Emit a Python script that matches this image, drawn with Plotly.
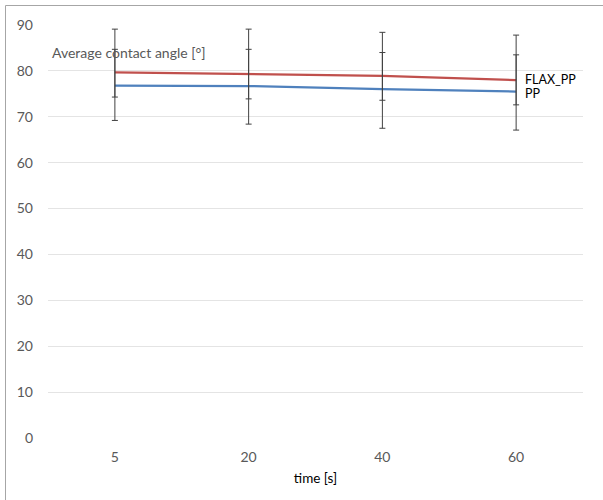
import plotly.graph_objects as go

# ---- data ----
times = ["5", "20", "40", "60"]
flax_pp = [79.7, 79.3, 78.9, 78.0]
pp = [76.8, 76.7, 76.0, 75.5]
flax_err_plus = [5.0, 5.4, 5.1, 5.5]
flax_err_minus = [5.4, 5.4, 5.3, 5.4]
pp_err_plus = [12.3, 12.4, 12.4, 12.3]
pp_err_minus = [7.6, 8.3, 8.5, 8.4]
y_ticks = [0, 10, 20, 30, 40, 50, 60, 70, 80, 90]
series_names = ["PP", "FLAX_PP"]

RED = "#C0504D"
BLUE = "#4F81BD"
ERR = "#404040"
FONT = "Lato"

W, H = 603, 500
ML, MR, MT, MB = 48, 20, 25, 62

fig = go.Figure()
fig.add_trace(go.Scatter(x=times, y=pp, mode="lines", name=series_names[0],
                         line=dict(color=BLUE, width=2.25)))
fig.add_trace(go.Scatter(x=times, y=flax_pp, mode="lines", name=series_names[1],
                         line=dict(color=RED, width=2.25)))
# error bars drawn on top of the lines
fig.add_trace(go.Scatter(x=times, y=pp, mode="markers",
                         marker=dict(size=1, opacity=0),
                         error_y=dict(type="data", symmetric=False, array=pp_err_plus,
                                      arrayminus=pp_err_minus, color=ERR,
                                      thickness=1, width=3)))
fig.add_trace(go.Scatter(x=times, y=flax_pp, mode="markers",
                         marker=dict(size=1, opacity=0),
                         error_y=dict(type="data", symmetric=False, array=flax_err_plus,
                                      arrayminus=flax_err_minus, color=ERR,
                                      thickness=1, width=3)))

# end labels (data labels on the last point)
last = len(times) - 1
fig.add_annotation(x=last, y=flax_pp[-1], text=series_names[1], showarrow=False,
                   xanchor="left", yanchor="middle", xshift=7, yshift=1,
                   font=dict(family=FONT, size=12.5, color="#000000"))
fig.add_annotation(x=last, y=pp[-1], text=series_names[0], showarrow=False,
                   xanchor="left", yanchor="middle", xshift=7, yshift=-2,
                   font=dict(family=FONT, size=12.5, color="#000000"))

# y axis title inside plot
fig.add_annotation(xref="paper", yref="paper", x=0.004, y=(438 - 52) / 413,
                   text="Average contact angle [°]", showarrow=False,
                   xanchor="left", yanchor="middle",
                   font=dict(family=FONT, size=14, color="#595959"))

# outer frame (left and top)
pw = W - ML - MR
ph = H - MT - MB
fx = (5.5 - ML) / pw
fy = (H - MB - 5.5) / ph
fig.add_shape(type="line", xref="paper", yref="paper", x0=fx, x1=fx, y0=fy,
              y1=-(MB + 5) / ph, line=dict(color="#A6A6A6", width=1))
fig.add_shape(type="line", xref="paper", yref="paper", x0=fx, x1=(W - ML + 5) / pw,
              y0=fy, y1=fy, line=dict(color="#A6A6A6", width=1))

fig.update_layout(
    width=W, height=H,
    margin=dict(l=ML, r=MR, t=MT, b=MB),
    paper_bgcolor="white", plot_bgcolor="white",
    showlegend=False,
    font=dict(family=FONT, size=13, color="#595959"),
    xaxis=dict(type="category", range=[-0.5, 3.5], showgrid=False, zeroline=False,
               showline=False, ticks="", ticklabelstandoff=9,
               tickfont=dict(family=FONT, size=14, color="#595959"),
               title=dict(text="time [s]", standoff=9,
                          font=dict(family=FONT, size=13.5, color="#000000"))),
    yaxis=dict(range=[0, 90], tickvals=y_ticks, showgrid=True, gridcolor="#E4E4E4",
               gridwidth=1, zeroline=False, showline=False, ticks="",
               ticklabelstandoff=14,
               tickfont=dict(family=FONT, size=14, color="#595959")),
)

fig.write_html("out.html", config={"displayModeBar": False},
               post_script="document.body.style.margin='0';")
